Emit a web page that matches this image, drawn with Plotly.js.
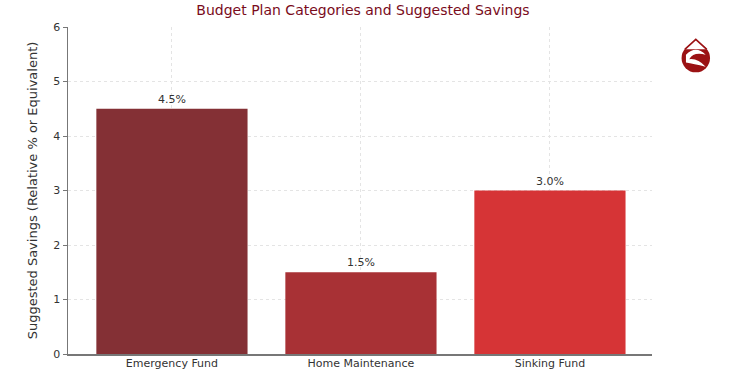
<!DOCTYPE html>
<html><head><meta charset="utf-8">
<script src="https://cdn.plot.ly/plotly-3.0.1.min.js"></script>
<style>body{margin:0;background:#fff}#c{width:750px;height:375px}</style>
</head><body><div id="c"></div>
<script>
const categories = ["Emergency Fund", "Home Maintenance", "Sinking Fund"];
const savings = [4.5, 1.5, 3.0];
const barColors = ["#843035", "#a83135", "#d63436"];
const yTicks = [0, 1, 2, 3, 4, 5, 6];

const logo = 'data:image/svg+xml;utf8,' + encodeURIComponent(
 '<svg xmlns="http://www.w3.org/2000/svg" width="40" height="40" viewBox="0 0 40 40">' +
 '<circle cx="20" cy="23" r="13" fill="#9b1214"/>' +
 '<path d="M10 15 L20 6 L30 15" fill="#fff" stroke="#9b1214" stroke-width="1.5"/>' +
 '<path d="M11 20 Q20 11 29 20 Q18 17 14 24 Q22 23 29 31 Q18 28 11 27 Z" fill="#fff"/>' +
 '</svg>');

Plotly.newPlot('c', [{
  type: 'bar', x: categories, y: savings,
  marker: {color: barColors},
  width: 0.8,
  text: savings.map(v => v.toFixed(1) + '%'),
  textposition: 'outside',
  textfont: {family: 'DejaVu Sans', size: 11, color: '#333'},
  cliponaxis: false,
  hoverinfo: 'none'
}], {
  width: 750, height: 375,
  margin: {l: 68, r: 98, t: 27, b: 21},
  paper_bgcolor: '#fff', plot_bgcolor: '#fff',
  font: {family: 'DejaVu Sans', color: '#333'},
  title: {text: 'Budget Plan Categories and Suggested Savings', font: {family: 'DejaVu Sans', size: 14, color: '#7a0c1c'}, x: 0.484, xanchor: 'center', y: 0.985, yanchor: 'top'},
  bargap: 0.2,
  xaxis: {range: [-0.55, 2.54], showline: true, linecolor: '#777', linewidth: 1.5,
    showgrid: true, gridcolor: '#e4e4e4', griddash: 'dot', gridwidth: 1,
    ticks: '', ticklabelstandoff: -2, tickfont: {size: 11, color: '#333'}, zeroline: false},
  yaxis: {range: [0, 6], tickvals: yTicks, showline: true, linecolor: '#777', linewidth: 1.5,
    ticks: 'outside', ticklen: 4, tickcolor: '#777',
    showgrid: true, gridcolor: '#e4e4e4', griddash: 'dot', gridwidth: 1,
    tickfont: {size: 11, color: '#333'}, zeroline: false,
    title: {text: 'Suggested Savings (Relative % or Equivalent)', font: {size: 13, color: '#333'}, standoff: 12}},
  images: [{source: logo, xref: 'paper', yref: 'paper', x: 1.075, y: 0.915, sizex: 0.075, sizey: 0.14, xanchor: 'center', yanchor: 'middle', layer: 'above'}],
  showlegend: false
}, {staticPlot: true});
</script></body></html>
